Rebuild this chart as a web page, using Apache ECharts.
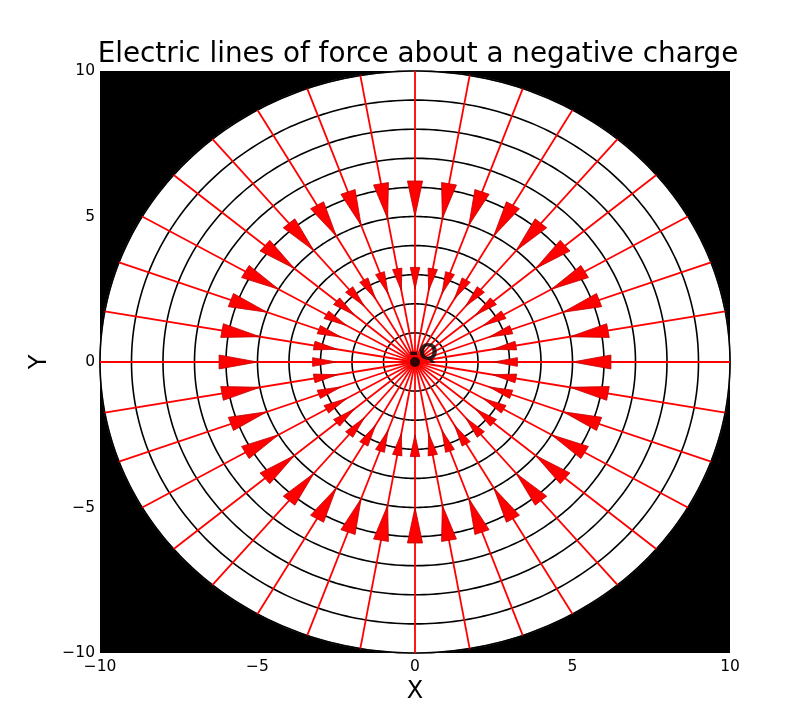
<!DOCTYPE html>
<html>
<head>
<meta charset="utf-8">
<script src="https://cdn.jsdelivr.net/npm/echarts@6/dist/echarts.min.js"></script>
<style>html,body{margin:0;padding:0;background:#fff}#c{width:811px;height:726px}</style>
</head>
<body>
<div id="c"></div>
<script>
// ---- data ----
const titleText = 'Electric lines of force about a negative charge';
const xTicks = [-10, -5, 0, 5, 10];
const yTicks = [-10, -5, 0, 5, 10];
const circleRadii = [1, 2, 3, 4, 5, 6, 7, 8, 9, 10];
const lineAngles = [0, 10, 20, 30, 40, 50, 60, 70, 80, 90, 100, 110, 120, 130, 140, 150, 160, 170,
  180, 190, 200, 210, 220, 230, 240, 250, 260, 270, 280, 290, 300, 310, 320, 330, 340, 350];
const lineLength = 10;
const arrowBaseRadii = [6.22, 3.25];
const arrowTipRadii = [5.0, 2.5];
const arrowHalfWidths = [0.24, 0.15];
const chargePoint = [[0, 0]];
const chargeLabel = '-Q';

const FONT = 'DejaVu Sans';
const fmt = v => (v < 0 ? '\u2212' + Math.abs(v) : String(v));
const rad = d => d * Math.PI / 180;

const chart = echarts.init(document.getElementById('c'), null, {renderer: 'canvas'});

// arrow data items: [angle, ringIndex]
const arrowItems = [];
lineAngles.forEach(a => arrowBaseRadii.forEach((_, i) => arrowItems.push([a, i])));

chart.setOption({
  animation: false,
  backgroundColor: '#fff',
  title: {
    text: titleText, left: 413, top: 36, textAlign: 'center',
    textStyle: {fontFamily: FONT, fontSize: 27.8, fontWeight: 'normal', color: '#000'}
  },
  grid: {left: 100, right: 81, top: 71, bottom: 73, show: true, backgroundColor: '#000', borderWidth: 0},
  xAxis: {
    type: 'value', min: -10, max: 10, interval: 5,
    name: 'X', nameLocation: 'middle', nameGap: 23,
    nameTextStyle: {fontFamily: FONT, fontSize: 24, color: '#000'},
    axisLine: {show: false}, axisTick: {show: false}, splitLine: {show: false},
    axisLabel: {formatter: fmt, fontFamily: FONT, fontSize: 15.5, color: '#000', margin: 6}
  },
  yAxis: {
    type: 'value', min: -10, max: 10, interval: 5,
    name: 'Y', nameLocation: 'middle', nameGap: 42,
    nameTextStyle: {fontFamily: FONT, fontSize: 24, color: '#000'},
    axisLine: {show: false}, axisTick: {show: false}, splitLine: {show: false},
    axisLabel: {formatter: fmt, fontFamily: FONT, fontSize: 15.5, color: '#000', margin: 5}
  },
  series: [
    { // white disc
      type: 'custom', z: 1, silent: true,
      data: [[lineLength, 0]],
      renderItem: (params, api) => {
        const r = api.value(0);
        const pts = [];
        for (let a = 0; a < 360; a += 1) pts.push(api.coord([r * Math.cos(rad(a)), r * Math.sin(rad(a))]));
        return {type: 'polygon', shape: {points: pts}, style: {fill: '#fff', stroke: '#777', lineWidth: 1.2}};
      }
    },
    { // concentric circles
      type: 'custom', z: 2, silent: true,
      data: circleRadii.map(r => [r, 0]),
      renderItem: (params, api) => {
        const r = api.value(0);
        const pts = [];
        for (let a = 0; a <= 360; a += 1) pts.push(api.coord([r * Math.cos(rad(a)), r * Math.sin(rad(a))]));
        return {type: 'polyline', shape: {points: pts}, style: {fill: null, stroke: '#000', lineWidth: 1.6}};
      }
    },
    { // radial lines of force
      type: 'custom', z: 3, silent: true,
      data: lineAngles.map(a => [a, lineLength]),
      renderItem: (params, api) => {
        const a = rad(api.value(0)), L = api.value(1);
        const p0 = api.coord([0, 0]);
        const p1 = api.coord([L * Math.cos(a), L * Math.sin(a)]);
        return {type: 'line', shape: {x1: p0[0], y1: p0[1], x2: p1[0], y2: p1[1]}, style: {stroke: '#ff0000', lineWidth: 1.8}};
      }
    },
    { // arrow heads pointing inward
      type: 'custom', z: 4, silent: true,
      data: arrowItems,
      renderItem: (params, api) => {
        const a = rad(api.value(0)), k = api.value(1);
        const rb = arrowBaseRadii[k], rt = arrowTipRadii[k], hw = arrowHalfWidths[k];
        const c = Math.cos(a), s = Math.sin(a);
        const b1 = api.coord([rb * c - hw * s, rb * s + hw * c]);
        const b2 = api.coord([rb * c + hw * s, rb * s - hw * c]);
        const t = api.coord([rt * c, rt * s]);
        return {type: 'polygon', shape: {points: [b1, b2, t]}, style: {fill: '#ff0000', stroke: '#c00000', lineWidth: 0.8}};
      }
    },
    { // charge
      type: 'scatter', z: 5, silent: true,
      data: chargePoint, symbol: 'circle', symbolSize: 10,
      itemStyle: {color: '#000'},
      label: {
        show: true, formatter: chargeLabel, position: 'insideBottomLeft',
        offset: [-6, 4], color: '#000', fontFamily: FONT, fontSize: 23, fontWeight: 'bold'
      }
    }
  ]
});
</script>
</body>
</html>
